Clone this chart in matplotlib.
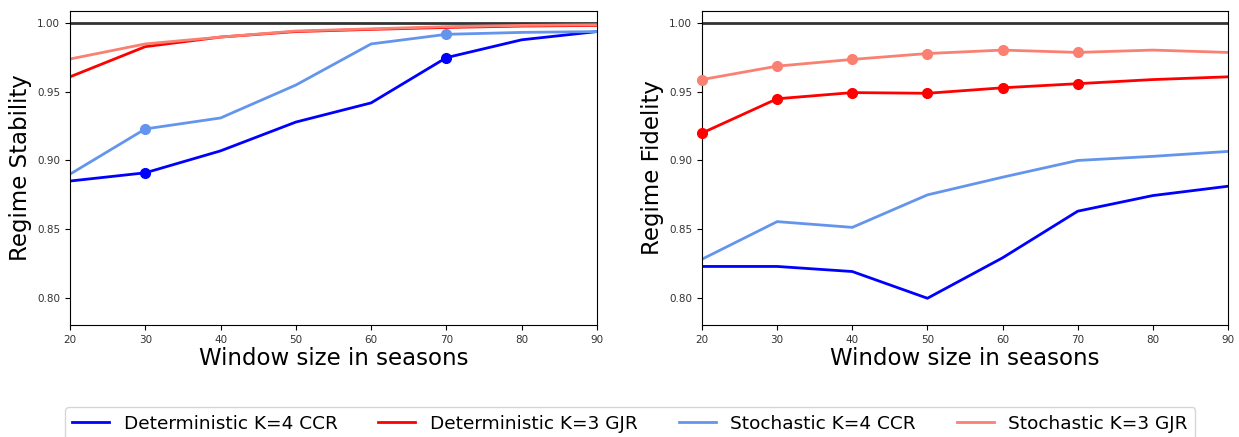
import matplotlib
matplotlib.use("Agg")
import matplotlib.pyplot as plt

windows = [20, 30, 40, 50, 60, 70, 80, 90]

# Regime stability per window size
stab_det_ccr = [0.885, 0.891, 0.907, 0.928, 0.942, 0.975, 0.988, 0.994]
stab_det_gjr = [0.961, 0.983, 0.990, 0.994, 0.9956, 0.997, 0.998, 0.9985]
stab_sto_ccr = [0.890, 0.923, 0.931, 0.955, 0.985, 0.992, 0.9934, 0.994]
stab_sto_gjr = [0.974, 0.985, 0.990, 0.9944, 0.996, 0.9976, 0.9985, 0.999]

# Regime fidelity per window size
fid_det_ccr = [0.8227, 0.8227, 0.819, 0.7995, 0.829, 0.863, 0.8744, 0.8812]
fid_det_gjr = [0.920, 0.945, 0.9495, 0.949, 0.953, 0.956, 0.959, 0.961]
fid_sto_ccr = [0.828, 0.8554, 0.8512, 0.8749, 0.8878, 0.900, 0.903, 0.9066]
fid_sto_gjr = [0.959, 0.9688, 0.9737, 0.978, 0.9805, 0.9788, 0.9805, 0.9788]

# Indices of windows highlighted with a marker
stab_marks = {"det_ccr": [1, 5], "det_gjr": [], "sto_ccr": [1, 5], "sto_gjr": []}
fid_marks = {"det_ccr": [], "det_gjr": [0, 1, 2, 3, 4, 5], "sto_ccr": [], "sto_gjr": [0, 1, 2, 3, 4, 5]}

labels = ["Deterministic K=4 CCR", "Deterministic K=3 GJR",
          "Stochastic K=4 CCR", "Stochastic K=3 GJR"]
colors = ["blue", "red", "cornflowerblue", "salmon"]
keys = ["det_ccr", "det_gjr", "sto_ccr", "sto_gjr"]

fig = plt.figure(figsize=(12.39, 4.37), dpi=100)
ax1 = fig.add_axes([0.0565, 0.2563, 0.4253, 0.7185])
ax2 = fig.add_axes([0.5666, 0.2563, 0.4245, 0.7185])

panels = [
    (ax1, [stab_det_ccr, stab_det_gjr, stab_sto_ccr, stab_sto_gjr], stab_marks, "Regime Stability"),
    (ax2, [fid_det_ccr, fid_det_gjr, fid_sto_ccr, fid_sto_gjr], fid_marks, "Regime Fidelity"),
]

handles = []
for ax, series, marks, ylabel in panels:
    ax.axhline(1.0, color="#333333", lw=2, zorder=1)
    hs = []
    for vals, col, key, lab in zip(series, colors, keys, labels):
        h, = ax.plot(windows, vals, color=col, lw=2, label=lab, zorder=2)
        hs.append(h)
        idx = marks[key]
        if idx:
            ax.plot([windows[i] for i in idx], [vals[i] for i in idx],
                    "o", color=col, ms=7, zorder=3, clip_on=False)
    handles = hs
    ax.set_xlim(20, 90)
    ax.set_ylim(0.78, 1.009)
    ax.set_xticks(windows)
    ax.set_yticks([0.80, 0.85, 0.90, 0.95, 1.00])
    ax.set_yticklabels(["0.80", "0.85", "0.90", "0.95", "1.00"])
    ax.tick_params(labelsize=7.5, labelcolor="#333333")
    ax.set_xlabel("Window size in seasons", fontsize=16.5, labelpad=2)
    ax.set_ylabel(ylabel, fontsize=16.5)

fig.legend(handles, labels, loc="upper center", bbox_to_anchor=(0.5085, 0.089),
           ncol=4, fontsize=13.3, frameon=True, columnspacing=2.2, handlelength=2.0)

fig.savefig("out.png", dpi=100)
